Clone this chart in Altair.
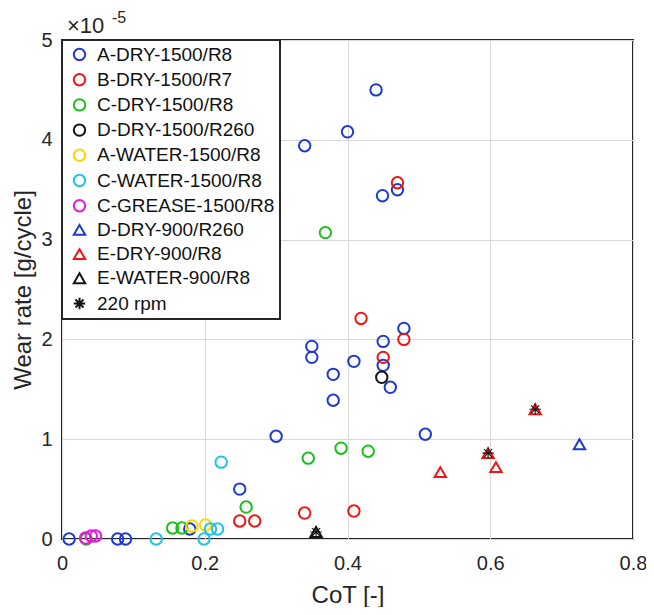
import altair as alt
import pandas as pd

FONT = "Liberation Sans"
TXT = "#262626"

series_names = ["A-DRY-1500/R8", "B-DRY-1500/R7", "C-DRY-1500/R8", "D-DRY-1500/R260",
                "A-WATER-1500/R8", "C-WATER-1500/R8", "C-GREASE-1500/R8", "D-DRY-900/R260",
                "E-DRY-900/R8", "E-WATER-900/R8", "220 rpm"]
series_colors = ["#1d3bd1", "#f01414", "#1bbf1b", "#141414", "#f7d900", "#20c4e6",
                 "#e619d9", "#1d3bd1", "#f01414", "#141414", "#141414"]
ASTERISK = "M0,-1L0,1M-1,0L1,0M-0.7,-0.7L0.7,0.7M-0.7,0.7L0.7,-0.7"
series_shapes = ["circle"] * 7 + ["triangle-up"] * 3 + [ASTERISK]
series_sizes = [130] * 7 + [170] * 3 + [50]

# CoT [-] and wear rate [x1e-5 g/cycle] per series
a_dry_cot = [0.440, 0.400, 0.340, 0.470, 0.449, 0.479, 0.450, 0.350, 0.350, 0.450, 0.409,
             0.380, 0.460, 0.380, 0.300, 0.509, 0.249, 0.010, 0.078, 0.089, 0.179]
a_dry_wear = [4.50, 4.08, 3.94, 3.50, 3.44, 2.11, 1.98, 1.93, 1.82, 1.74, 1.78,
              1.65, 1.52, 1.39, 1.03, 1.05, 0.50, 0.00, 0.00, 0.00, 0.10]
b_dry_cot = [0.470, 0.419, 0.479, 0.450, 0.249, 0.270, 0.340, 0.409]
b_dry_wear = [3.57, 2.21, 2.00, 1.82, 0.18, 0.18, 0.26, 0.28]
c_dry_cot = [0.369, 0.391, 0.429, 0.345, 0.258, 0.155, 0.168, 0.034]
c_dry_wear = [3.07, 0.91, 0.88, 0.81, 0.32, 0.11, 0.11, 0.00]
d_dry_cot = [0.448]
d_dry_wear = [1.62]
a_water_cot = [0.182, 0.201]
a_water_wear = [0.13, 0.14]
c_water_cot = [0.223, 0.132, 0.199, 0.208, 0.218]
c_water_wear = [0.77, 0.00, 0.00, 0.10, 0.10]
c_grease_cot = [0.033, 0.041, 0.047]
c_grease_wear = [0.01, 0.03, 0.03]
d_dry900_cot = [0.725]
d_dry900_wear = [0.95]
e_dry900_cot = [0.663, 0.597, 0.608, 0.530]
e_dry900_wear = [1.30, 0.86, 0.72, 0.67]
e_water900_cot = [0.356]
e_water900_wear = [0.07]
rpm220_cot = [0.663, 0.597, 0.356]
rpm220_wear = [1.30, 0.86, 0.07]

all_cot = [a_dry_cot, b_dry_cot, c_dry_cot, d_dry_cot, a_water_cot, c_water_cot,
           c_grease_cot, d_dry900_cot, e_dry900_cot, e_water900_cot, rpm220_cot]
all_wear = [a_dry_wear, b_dry_wear, c_dry_wear, d_dry_wear, a_water_wear, c_water_wear,
            c_grease_wear, d_dry900_wear, e_dry900_wear, e_water900_wear, rpm220_wear]

rows = []
for name, xs, ys in zip(series_names, all_cot, all_wear):
    for x, y in zip(xs, ys):
        rows.append({"series": name, "cot": x, "wear": y})
df = pd.DataFrame(rows)

enc = dict(
    x=alt.X("cot:Q", title="CoT [-]",
            scale=alt.Scale(domain=[0, 0.8], nice=False, zero=False),
            axis=alt.Axis(values=[0, 0.2, 0.4, 0.6, 0.8], format=".1~f")),
    y=alt.Y("wear:Q", title="Wear rate [g/cycle]",
            scale=alt.Scale(domain=[0, 5], nice=False),
            axis=alt.Axis(values=[0, 1, 2, 3, 4, 5], format="d")),
    color=alt.Color("series:N", title=None,
                    scale=alt.Scale(domain=series_names, range=series_colors)),
    shape=alt.Shape("series:N", title=None,
                    scale=alt.Scale(domain=series_names, range=series_shapes)),
    size=alt.Size("series:N", title=None,
                  scale=alt.Scale(domain=series_names, range=series_sizes)),
)

base = alt.Chart(df)
points = base.mark_point(filled=False, strokeWidth=2, opacity=1).encode(**enc).transform_filter(
    alt.datum.series != "220 rpm")
stars = base.mark_point(filled=False, strokeWidth=1.1, opacity=1).encode(**enc).transform_filter(
    alt.datum.series == "220 rpm")

exp_base = alt.Chart(pd.DataFrame({"t": ["×10"]})).mark_text(
    font=FONT, fontSize=22, color=TXT, align="left", baseline="alphabetic"
).encode(text="t:N", x=alt.value(5), y=alt.value(-7))

exp_sup = alt.Chart(pd.DataFrame({"t": ["-5"]})).mark_text(
    font=FONT, fontSize=16, color=TXT, align="left", baseline="alphabetic"
).encode(text="t:N", x=alt.value(50), y=alt.value(-17))

chart = alt.layer(points, stars, exp_base, exp_sup).properties(
    width=571, height=499,
    autosize=alt.AutoSizeParams(type="none"),
    padding={"left": 54, "top": 32, "right": 13, "bottom": 68},
).configure_view(
    stroke="#262626", strokeWidth=2
).configure_axis(
    domain=False, ticks=False, grid=True, gridColor="#d9d9d9", gridWidth=1,
    labelFont=FONT, labelFontSize=20, labelColor=TXT, labelFlush=False,
    titleFont=FONT, titleFontSize=24, titleColor=TXT, titleFontWeight="normal",
).configure_axisX(
    labelPadding=14, titlePadding=10,
).configure_axisY(
    labelPadding=10, titlePadding=5,
).configure_legend(
    orient="none", legendX=0, legendY=0,
    strokeColor="#262626", strokeWidth=2, fillColor="white",
    padding=5, labelFont=FONT, labelFontSize=19, labelColor="#111111", labelLimit=0,
    symbolStrokeWidth=2, rowPadding=4.2, labelOffset=8, symbolOffset=3,
)

chart.save("out.html", embed_options={"renderer": "svg", "actions": False})
